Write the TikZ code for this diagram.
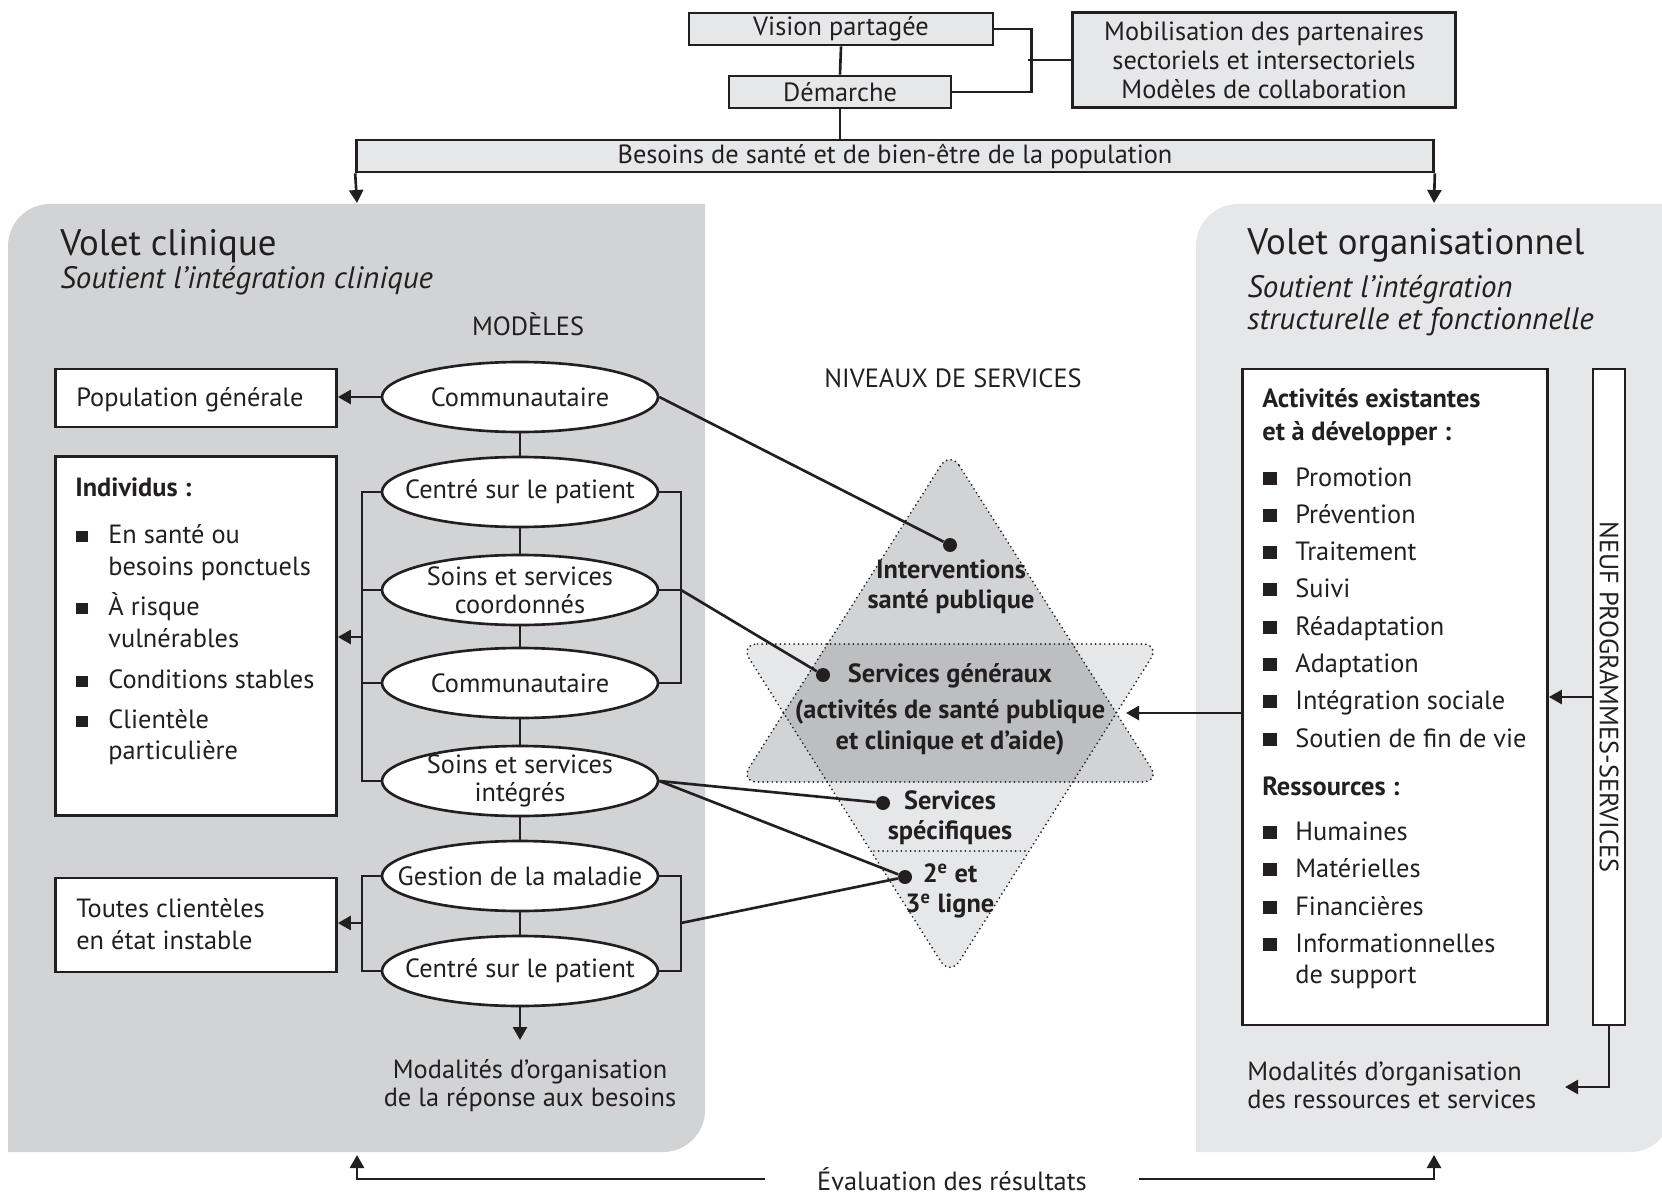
\documentclass[tikz,border=0pt]{standalone}
\usepackage{fontspec}
\setmainfont{PT Sans}
\usetikzlibrary{positioning,arrows.meta,calc,shapes.geometric}
\definecolor{ink}{HTML}{231F20}
\definecolor{clin}{HTML}{D1D3D4}
\definecolor{orga}{HTML}{E6E7E8}
\definecolor{pale}{HTML}{E6E7E8}
\definecolor{mid}{HTML}{D1D3D4}
\definecolor{deep}{HTML}{BCBEC0}
\newcommand{\txt}{\fontsize{15}{18}\selectfont}

\begin{document}
\begin{tikzpicture}[x=0.2mm,y=-0.2mm,ink,font=\txt,
  every node/.style={inner sep=0pt},
  topbox/.style={draw,fill=pale,line width=1.5pt,align=center},
  listbox/.style={draw,fill=white,line width=1.5pt},
  model/.style={ellipse,draw,fill=white,line width=1.5pt,minimum width=55.2mm,minimum height=14mm,
    inner xsep=-7mm,inner ysep=-2mm,align=center,font=\fontsize{15}{16}\selectfont},
  link/.style={line width=1.5pt},
  arr/.style={link,-{Triangle[length=2.6mm,width=2.8mm]}},
  dot/.style={circle,fill,minimum size=2.8mm},
  lvl/.style={font=\fontsize{15}{17}\selectfont\bfseries,align=center},
  dots/.style={line width=1.1pt,line cap=round,dash pattern=on 0pt off 2.6pt},
  star/.style={rounded corners=3.5mm}]
\useasboundingbox (0,0) rectangle (1662,1197);
\clip (0,0) rectangle (1662,1197);

% panels
\fill[clin] (8,1152) -- (8,246) arc[start angle=180,end angle=90,radius=8.4mm] -- (705,204)
  -- (705,1110) arc[start angle=0,end angle=-90,radius=8.4mm] -- cycle;
\fill[orga] (1196,1152) -- (1196,246) arc[start angle=180,end angle=90,radius=8.4mm] -- (1672,204)
  -- (1672,1110) arc[start angle=0,end angle=-90,radius=8.4mm] -- cycle;

% top
\node[topbox,minimum width=60.8mm,minimum height=6.4mm] (vis) at (841,29) {Vision partagée};
\node[topbox,minimum width=44.4mm,minimum height=6.4mm] (dem) at (840,92) {Démarche};
\node[topbox,minimum width=76.6mm,minimum height=19mm,font=\fontsize{15}{16.5}\selectfont] (mob) at (1264,60)
  {Mobilisation des partenaires\\sectoriels et intersectoriels\\Modèles de collaboration};
\node[topbox,minimum width=215.4mm,minimum height=6.4mm] (bes) at (895,156)
  {Besoins de santé et de bien-être de la population};
\draw[link] (vis.south) -- (dem.north);
\draw[link] (dem.south) -- (dem.south |- bes.north);
\draw[link] (vis.east) -- ++(37,0) |- (dem.east);
\draw[link] (mob.west) -- ++(-43,0);
\coordinate (clint) at (357,203);
\coordinate (orgat) at (1434,203);
\draw[arr] (bes.south west) -- (clint);
\draw[arr] (bes.south east) -- (orgat);

% volet clinique
\node[anchor=base west,font=\fontsize{21}{24}\selectfont] (tclin) at (60,256) {Volet clinique};
\node[anchor=base west,font=\fontsize{17.6}{20}\selectfont\itshape] (sclin) at (60,289) {Soutient l’intégration clinique};
\node[anchor=base] (tmod) at (528,335) {MODÈLES};

\node[model] (com1) at (520,397) {Communautaire};
\node[model] (cen1) at (520,492) {Centré sur le patient};
\node[model] (soc) at (520,590) {Soins et services\\coordonnés};
\node[model] (com2) at (520,683) {Communautaire};
\node[model] (int) at (520,781) {Soins et services\\intégrés};
\node[model] (ges) at (520,876) {Gestion de la maladie};
\node[model] (cen2) at (520,971) {Centré sur le patient};
\foreach \a/\b in {com1/cen1,cen1/soc,soc/com2,com2/int,int/ges,ges/cen2}
  \draw[link] (\a.south) -- (\b.north);
\coordinate (modl) at (520,1040);
\draw[arr] (cen2.south) -- (modl);
\node[align=center,font=\fontsize{15}{16}\selectfont] (tmodl) at (530,1086) {Modalités d’organisation\\de la réponse aux besoins};

\node[listbox,minimum width=56.2mm,minimum height=11.6mm] (pop) at (196,398) {};
\node[anchor=base west] (tpop) at (76,406) {Population générale};
\node[listbox,minimum width=56.2mm,minimum height=71.8mm] (ind) at (196,636) {};
\node[anchor=base west,font=\txt\bfseries] (hind) at (75,496) {Individus :};
\foreach \y/\t [count=\i] in {543/En santé ou,575/besoins ponctuels,615/À risque,647/vulnérables,
    688/Conditions stables,728/Clientèle,759/particulière}
  \node[anchor=base west] (li\i) at (108,\y) {\t};
\foreach \y in {543,615,688,728}
  \fill (76,\y-12) rectangle (88,\y-1);
\node[listbox,minimum width=56.2mm,minimum height=18.8mm] (tout) at (196,925) {};
\node[anchor=base west] (ttout1) at (76,917) {Toutes clientèles};
\node[anchor=base west] (ttout2) at (76,949) {en état instable};

\draw[arr] (com1.west) -- (com1.west -| pop.east);
\coordinate (lb1) at (362,637);
\coordinate (rb1) at (681,590);
\draw[link] (cen1.west) -| (lb1) |- (int.west);
\draw[link] (soc.west) -- (soc.west -| lb1);
\draw[link] (com2.west) -- (com2.west -| lb1);
\draw[arr] (lb1) -- (lb1 -| ind.east);
\draw[link] (cen1.east) -| (rb1) |- (com2.east);
\draw[link] (soc.east) -- (rb1);
\coordinate (lb2) at (362,923);
\coordinate (rb2) at (681,923);
\draw[link] (ges.west) -| (lb2) |- (cen2.west);
\draw[arr] (lb2) -- (lb2 -| tout.east);
\draw[link] (ges.east) -| (rb2) |- (cen2.east);

% niveaux de services
\node[anchor=base] (tniv) at (953,387) {NIVEAUX DE SERVICES};
\fill[pale,star] (740,644) -- (1160,644) -- (950,976) -- cycle;
\fill[mid,star] (950,451) -- (1160,782) -- (740,782) -- cycle;
\begin{scope}
  \clip[star] (740,644) -- (1160,644) -- (950,976) -- cycle;
  \fill[deep,star] (950,451) -- (1160,782) -- (740,782) -- cycle;
\end{scope}
\draw[dots,star] (950,451) -- (1160,782) -- (740,782) -- cycle;
\draw[dots,star] (740,644) -- (1160,644) -- (950,976) -- cycle;
\draw[dots] (874,851) -- (1026,851);

\node[dot] (dint) at (950,545) {};
\node[lvl] (lint) at (951,587) {Interventions\\santé publique};
\node[dot] (dsg) at (823,675) {};
\node[lvl,font=\fontsize{15}{17.6}\selectfont\bfseries] (lsg) at (950,709) {Services généraux\\[1mm](activités de santé publique\\et clinique et d’aide)};
\node[dot] (dspe) at (883,803) {};
\node[lvl] (lspe) at (950,818) {Services\\spécifiques};
\node[dot] (d23) at (905,877) {};
\node[lvl] (l23) at (950,891) {2\textsuperscript{e} et\\3\textsuperscript{e} ligne};

\draw[link] (com1.east) -- (dint);
\draw[link] (rb1) -- (dsg);
\draw[link] (int.east) -- (dspe);
\draw[link] (int.east) -- (d23);
\draw[link] (rb2) -- (d23);

% volet organisationnel
\node[anchor=base west,font=\fontsize{21}{24}\selectfont] (torg) at (1247,255) {Volet organisationnel};
\node[anchor=base west,font=\fontsize{17.6}{20}\selectfont\itshape] (sorg1) at (1247,298) {Soutient l’intégration};
\node[anchor=base west,font=\fontsize{17.6}{20}\selectfont\itshape] (sorg2) at (1247,330) {structurelle et fonctionnelle};

\node[listbox,minimum width=61mm,minimum height=131.2mm] (act) at (1395,697) {};
\node[listbox,rotate=-90,minimum width=131.2mm,minimum height=6.4mm] (neuf) at (1609,697) {NEUF PROGRAMMES-SERVICES};
\node[anchor=base west,font=\txt\bfseries] (hact1) at (1262,408) {Activités existantes};
\node[anchor=base west,font=\txt\bfseries] (hact2) at (1262,440) {et à développer :};
\foreach \y/\t [count=\i] in {486/Promotion,523/Prévention,560/Traitement,597/Suivi,635/Réadaptation,
    672/Adaptation,709/Intégration sociale,747/Soutien de fin de vie}{
  \node[anchor=base west] (ra\i) at (1295,\y) {\t};
  \fill (1263,\y-14) rectangle (1277,\y-1);
}
\node[anchor=base west,font=\txt\bfseries] (hres) at (1262,795) {Ressources :};
\foreach \y/\t [count=\i] in {840/Humaines,877/Matérielles,915/Financières,952/Informationnelles}{
  \node[anchor=base west] (rr\i) at (1295,\y) {\t};
  \fill (1263,\y-14) rectangle (1277,\y-1);
}
\node[anchor=base west] (rr5) at (1295,983) {de support};
\node[anchor=base west] (tmodr1) at (1247,1080) {Modalités d’organisation};
\node[anchor=base west] (tmodr2) at (1247,1108) {des ressources et services};

\coordinate (sgr) at (1126,713);
\draw[arr] (sgr -| act.west) -- (sgr);
\draw[arr] (neuf.south) -- (neuf.south -| act.east);
\coordinate (modr) at (1565,1087);
\draw[arr] (neuf.east) |- (modr);

% evaluation
\node[inner xsep=10.4mm] (eval) at (952,1179) {Évaluation des résultats};
\coordinate (clinb) at (357,1155);
\coordinate (orgab) at (1434,1155);
\draw[arr] (eval.west) -| (clinb);
\draw[arr] (eval.east) -| (orgab);
\end{tikzpicture}
\end{document}
